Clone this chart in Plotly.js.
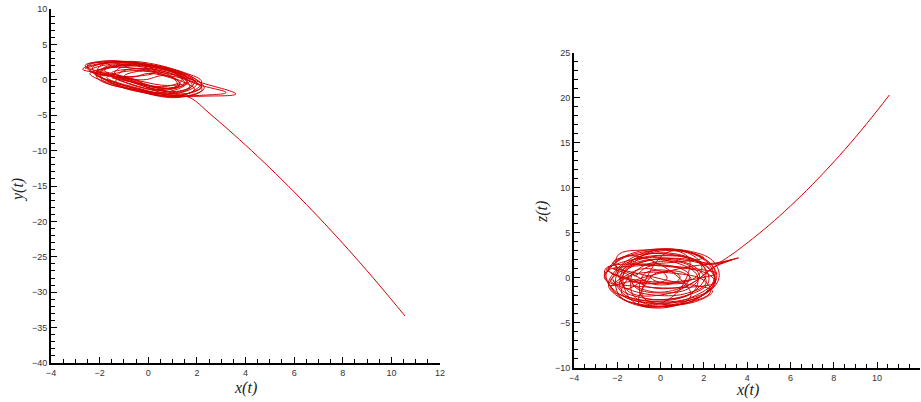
<!DOCTYPE html>
<html>
<head>
<meta charset="utf-8">
<script src="https://cdn.plot.ly/plotly-3.0.1.min.js"></script>
<style>html,body{margin:0;padding:0;background:#fff;}#chart{width:921px;height:402px;}</style>
</head>
<body>
<div id="chart"></div>
<script>
// ---- Left panel: x(t) vs y(t) — tangled attractor part
const leftTangleX = [
 -2.6,-1.5,0.3,1.8,2.2,1.0,-0.6,-2.1,
 -2.0,-1.0,0.4,1.4,1.7,0.9,-0.4,-1.6,
 -2.1,-1.2,0.2,1.5,1.8,0.8,-0.5,-1.7,
 -1.6,-0.6,0.9,2.0,2.2,1.2,-0.1,-1.3,
 -1.2,-0.5,0.6,1.5,1.7,0.9,-0.1,-1.0,
 -2.6,-2.0,-1.0,0.0,0.3,-0.5,-1.6,-2.4,
 -2.5,-1.7,-0.2,1.2,1.6,0.6,-0.9,-2.2,
 -0.2,0.6,1.6,2.2,1.8,0.8,0.0,-0.3,
 -1.0,-0.4,0.4,1.1,1.2,0.5,-0.3,-0.9,
 -2.4,-1.3,0.5,1.9,2.3,1.3,-0.3,-1.9,
 -1.9,-1.1,0.2,1.1,1.4,0.8,-0.3,-1.4,
 -1.8,-1.0,0.1,1.2,1.5,0.6,-0.6,-1.6,
 -2.0,-0.9,0.7,2.0,3.6,2.4,1.0,-0.8,-2.3,
 -2.4,-1.6,-0.1,1.3,1.9,1.4,0.0,-1.6,
 -2.3,-1.4,0.0,1.4,2.0,1.1,-0.4,-2.0,
 -0.6,0.0,0.7,1.3,1.2,0.5,-0.2,-0.6,
 -1.5,-0.8,0.3,1.0,1.3,0.4,-0.7,-1.4,
 -1.3,-0.5,0.6,1.5,1.6,0.8,-0.3,-1.2,
 -2.7,-1.8,-0.3,1.5,2.2,1.6,0.2,-1.5,
 -2.2,-1.0,0.6,1.9,3.2,2.1,0.8,-0.7,-2.1,
 -2.5,-1.6,-0.4,1.0,1.9,1.5,0.3,-1.2,
 -1.5,0.2,1.2
];
const leftTangleY = [
 1.6,2.5,2.0,0.4,-0.9,-2.3,-1.4,0.3,
 1.9,2.6,2.1,0.9,-0.2,-1.2,-0.4,1.0,
 1.2,2.1,1.7,0.3,-0.8,-1.9,-1.1,0.3,
 0.6,1.3,0.8,-0.4,-1.5,-2.5,-1.9,-0.5,
 0.9,1.6,1.2,0.0,-1.0,-1.7,-1.0,0.1,
 2.0,2.6,2.6,1.9,1.1,0.5,0.6,1.2,
 1.9,2.6,2.2,0.9,-0.4,-1.8,-0.9,0.8,
 0.0,0.6,0.0,-1.0,-1.8,-1.9,-1.2,-0.4,
 0.5,1.2,0.9,0.0,-0.8,-1.2,-0.6,0.1,
 1.3,2.3,1.8,0.2,-1.2,-2.4,-1.6,0.0,
 1.5,2.2,1.9,1.0,0.0,-0.9,-0.6,0.5,
 1.4,2.0,1.6,0.5,-0.5,-1.5,-0.8,0.6,
 1.0,2.2,1.5,-0.2,-2.0,-2.3,-2.2,-1.2,0.5,
 0.9,1.7,1.4,-0.1,-1.3,-2.2,-1.9,-0.3,
 1.7,2.4,2.1,0.7,-0.6,-2.0,-1.3,0.5,
 0.4,0.9,0.5,-0.4,-1.1,-1.1,-0.5,0.1,
 1.0,1.5,1.3,0.4,-0.6,-1.4,-0.6,0.4,
 1.4,2.0,1.5,0.6,-0.3,-0.8,-0.2,0.6,
 1.5,2.4,2.3,1.0,-0.3,-2.0,-1.8,-0.2,
 0.9,2.0,1.6,-0.5,-1.8,-2.2,-2.3,-1.3,0.6,
 2.1,2.5,2.4,1.3,-0.2,-1.6,-1.3,0.2,
 0.3,-1.0,-2.1
];
// Left panel: escaping branch
const leftTailX = [1.76, 2.5, 3.5, 4.5, 5.5, 6.5, 7.5, 8.5, 9.5, 10.56];
const leftTailY = [-2.59, -4.69, -7.67, -10.81, -14.12, -17.59, -21.22, -25.02, -28.98, -33.36];

// ---- Right panel: x(t) vs z(t) — tangled attractor part
const rightTangleX = [
 -2.6,-1.8,0.0,1.9,2.6,1.8,0.0,-1.9,
 -2.5,-1.2,0.5,2.2,2.5,1.0,-0.8,-2.3,
 -1.8,-0.9,0.8,2.0,2.2,1.0,-0.7,-1.9,
 -0.8,0.4,1.3,1.2,0.5,-0.5,-1.3,-1.3,
 -1.2,-0.6,0.5,1.3,1.2,0.4,-0.6,-1.2,
 -2.4,-2.0,-0.7,1.0,2.3,2.4,0.9,-1.0,
 -0.4,0.2,1.0,1.4,1.0,0.2,-0.3,-0.5,
 -1.6,-1.8,-0.8,0.8,1.7,1.5,0.3,-0.9,
 -0.8,-0.3,0.5,0.9,0.7,0.1,-0.5,-0.9,
 -2.2,-0.9,0.9,1.9,1.6,0.2,-1.4,-2.3,
 -2.5,-1.3,0.6,2.3,2.5,1.2,-0.8,-2.3,
 -1.4,-0.8,0.1,0.3,-0.2,-1.0,-1.5,-1.5,
 -2.2,0.5,2.4,1.2,-0.8,-0.6,0.4,2.0,
 -1.5,-0.2,1.4,2.1,1.5,0.0,-1.6,-2.2,
 -2.1,-1.2,0.6,2.0,2.3,1.0,-0.8,-1.9,
 -2.0,-1.0,0.8,2.3,3.6,2.6,1.6,0.3,-1.5,
 -2.0,-0.5,1.2,2.4,2.7,2.0,0.3,-1.6,-2.5,-2.5,
 2.6,0.0,-2.4,-1.6,0.3,1.4,0.3,-1.5,-2.4,
 -2.3,-1.6,0.1,1.7,2.5,1.6,-0.2,-1.8,
 -1.0,0.0,1.2,1.8,1.3,0.0,-1.1,-1.5,
 -1.9,-1.0,0.5,1.7,2.1,1.1,-0.4,-1.6,
 -2.6,-2.0,-0.4,1.5,2.5,2.1,0.6,-1.3,
 -1.7,-0.6,1.1,2.4,3.3,2.5,1.3,-0.2,-1.3,
 0.5,1.8,2.6
];
const rightTangleZ = [
 0.2,2.2,3.2,2.3,0.2,-2.2,-3.2,-2.1,
 0.6,1.3,1.2,0.4,-0.5,-1.1,-1.0,-0.4,
 0.8,2.4,2.6,1.2,-0.6,-2.1,-2.3,-1.0,
 2.5,3.1,2.2,0.0,-2.2,-3.0,-1.8,0.5,
 0.2,1.2,1.3,0.4,-0.7,-1.2,-1.0,-0.4,
 -0.8,1.0,2.8,3.0,1.3,-1.0,-2.8,-2.9,
 0.2,0.7,0.6,-0.1,-0.6,-0.6,-0.3,0.0,
 -1.2,0.6,1.9,1.6,0.2,-1.6,-2.4,-2.0,
 0.3,0.8,0.7,0.1,-0.5,-0.8,-0.6,-0.1,
 1.7,2.6,2.4,1.3,0.0,-0.6,-0.3,0.6,
 0.9,2.0,2.1,1.0,-0.8,-2.4,-2.5,-1.2,
 0.5,1.0,0.6,-0.1,-0.6,-0.6,-0.2,0.3,
 1.0,-0.4,-1.5,-2.9,-2.2,0.2,2.9,2.2,
 1.6,2.9,2.6,0.5,-1.6,-2.6,-2.0,-0.2,
 -0.6,0.4,0.5,-0.3,-1.6,-2.9,-3.0,-2.0,
 0.5,2.0,2.4,1.6,2.2,1.4,-0.4,-1.8,-1.5,
 2.4,3.1,3.0,1.9,0.0,-1.9,-2.8,-2.2,-0.3,1.1,
 0.5,-0.5,0.8,2.4,1.0,-2.0,-3.3,-2.7,-1.0,
 -0.3,1.6,2.5,1.9,-0.2,-2.0,-2.9,-1.7,
 1.0,1.8,1.5,0.2,-1.2,-1.7,-1.2,0.0,
 0.1,1.6,2.0,1.0,-0.6,-1.8,-1.9,-1.2,
 0.0,1.8,3.0,2.7,0.8,-1.6,-3.1,-2.6,
 0.6,1.9,2.1,1.5,2.0,1.2,-0.8,-1.6,-0.6,
 0.8,1.4,1.6
];
// Right panel: escaping branch
const rightTailX = [3.14, 4.0, 5.0, 6.0, 7.0, 8.0, 9.0, 10.0, 10.57];
const rightTailZ = [2.33, 3.86, 5.81, 7.97, 10.32, 12.86, 15.60, 18.54, 20.3];

// tick settings
const xTickVals = [-4, -2, 0, 2, 4, 6, 8, 10, 12];
const yLeftTicks = [-40, -35, -30, -25, -20, -15, -10, -5, 0, 5, 10];
const yRightTicks = [-10, -5, 0, 5, 10, 15, 20, 25];

const red = '#d40000';
const lineStyle = {color: red, width: 1, shape: 'spline', smoothing: 1.1};

const traces = [
  {x: leftTangleX.concat(leftTailX), y: leftTangleY.concat(leftTailY),
   xaxis: 'x', yaxis: 'y', mode: 'lines', line: lineStyle, hoverinfo: 'skip'},
  {x: rightTangleX.concat(rightTailX), y: rightTangleZ.concat(rightTailZ),
   xaxis: 'x2', yaxis: 'y2', mode: 'lines', line: lineStyle, hoverinfo: 'skip'}
];

const tickFont = {family: 'Liberation Sans, Arial, sans-serif', size: 9, color: '#333'};
function axisBase(extra) {
  return Object.assign({
    showgrid: false, zeroline: false, showline: true, linecolor: '#000', linewidth: 2,
    ticks: 'inside', ticklen: 6, tickwidth: 1, tickcolor: '#000', tickfont: tickFont,
    mirror: false, fixedrange: true, automargin: false
  }, extra);
}

const titleFont = {family: 'Liberation Serif, Times New Roman, serif', size: 16, color: '#222'};

const layout = {
  width: 921, height: 402,
  margin: {l: 0, r: 0, t: 0, b: 0},
  paper_bgcolor: '#fff', plot_bgcolor: '#fff',
  showlegend: false,
  xaxis: axisBase({domain: [0.05537, 0.47774], range: [-4, 12], anchor: 'y',
    tickmode: 'array', tickvals: xTickVals,
    minor: {dtick: 0.5, ticks: 'inside', ticklen: 4, tickcolor: '#000'}}),
  yaxis: axisBase({domain: [0.0970, 0.9776], range: [-40, 10], anchor: 'x',
    tickmode: 'array', tickvals: yLeftTicks,
    minor: {dtick: 1, ticks: 'inside', ticklen: 4, tickcolor: '#000'}}),
  xaxis2: axisBase({domain: [0.62324, 0.99924], range: [-4, 12], anchor: 'y2',
    tickmode: 'array', tickvals: xTickVals,
    minor: {dtick: 0.5, ticks: 'inside', ticklen: 4, tickcolor: '#000'}}),
  yaxis2: axisBase({domain: [0.0853, 0.8689], range: [-10, 25], anchor: 'x2',
    tickmode: 'array', tickvals: yRightTicks,
    minor: {dtick: 1, ticks: 'inside', ticklen: 4, tickcolor: '#000'}}),
  annotations: [
    {text: '<i>x(t)</i>', xref: 'paper', yref: 'paper', x: 245/921, y: 1 - 388/402,
     showarrow: false, font: titleFont, xanchor: 'center', yanchor: 'middle'},
    {text: '<i>y(t)</i>', xref: 'paper', yref: 'paper', x: 18/921, y: 1 - 190/402,
     showarrow: false, font: titleFont, textangle: -90, xanchor: 'center', yanchor: 'middle'},
    {text: '<i>x(t)</i>', xref: 'paper', yref: 'paper', x: 747/921, y: 1 - 390/402,
     showarrow: false, font: titleFont, xanchor: 'center', yanchor: 'middle'},
    {text: '<i>z(t)</i>', xref: 'paper', yref: 'paper', x: 542/921, y: 1 - 212/402,
     showarrow: false, font: titleFont, textangle: -90, xanchor: 'center', yanchor: 'middle'}
  ]
};

Plotly.newPlot('chart', traces, layout, {displayModeBar: false, staticPlot: true});
</script>
</body>
</html>
